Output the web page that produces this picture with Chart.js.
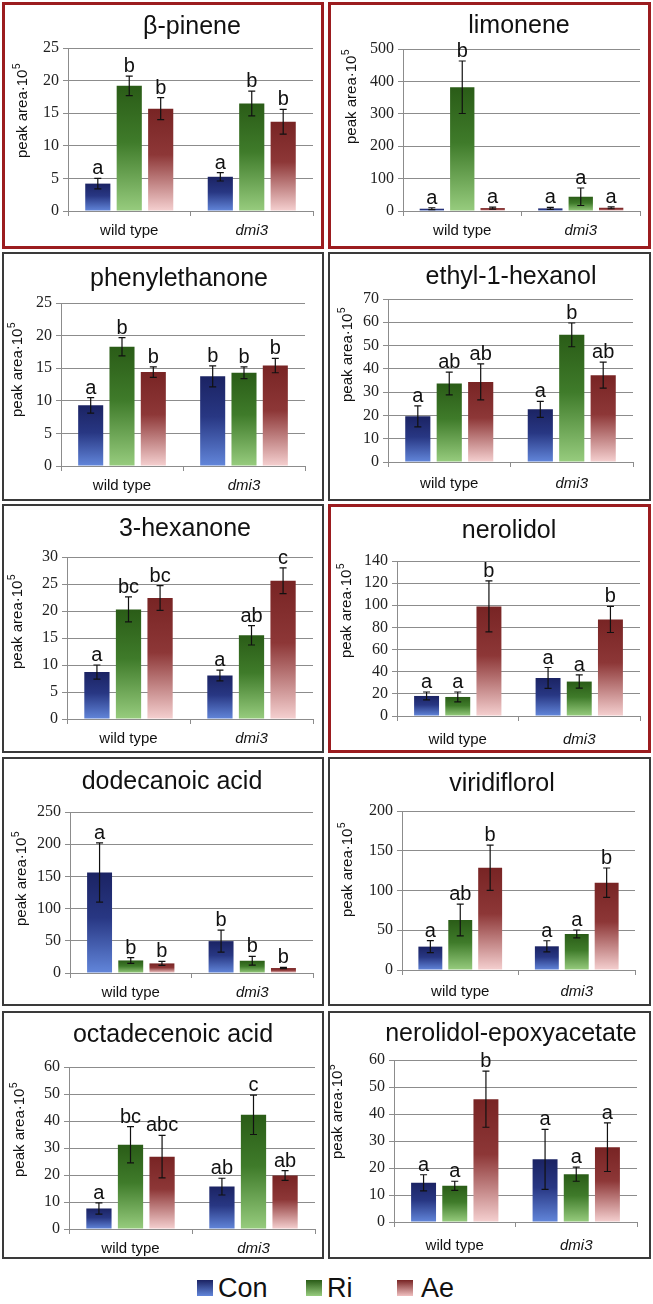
<!DOCTYPE html>
<html>
<head>
<meta charset="utf-8">
<script src="https://cdn.jsdelivr.net/npm/chart.js@4.4.0/dist/chart.umd.min.js"></script>
<style>
  body { margin: 0; background: #fff; width: 653px; height: 1304px; position: relative; overflow: hidden; }
  .panel, .frame, .ttl { position: absolute; }
  .frame { box-sizing: border-box; border: 2px solid #3a3a3a; pointer-events: none; }
  .frame.hi { border: 3px solid #9b1c1f; }
  .ttl { width: 320px; text-align: center; font: 25px "Liberation Sans", Arial, sans-serif; color: #111; line-height: 30px; }
  .leg { position: absolute; font: 27px "Liberation Sans", Arial, sans-serif; color: #111; line-height: 30px; }
  .sw { position: absolute; width: 16px; height: 16px; }
</style>
</head>
<body>
<script>
// categories / series
const groups = ['wild type', 'dmi3'];
const treatments = ['Con', 'Ri', 'Ae'];
const compounds = ['β-pinene', 'limonene', 'phenylethanone', 'ethyl-1-hexanol', '3-hexanone',
  'nerolidol', 'dodecanoic acid', 'viridiflorol', 'octadecenoic acid', 'nerolidol-epoxyacetate'];

// y axis ticks
const yMax  = [25, 500, 25, 70, 30, 140, 250, 200, 60, 60];
const yStep = [5, 100, 5, 10, 5, 20, 50, 50, 10, 10];

// means per compound: [wild type, dmi3]
const conMean = [[4.2, 5.25], [7, 8], [9.3, 13.75], [19.6, 22.6], [8.7, 8.05], [18.1, 34.4], [156.2, 49.5], [29.4, 29.8], [7.6, 15.7], [14.5, 23.2]];
const riMean  = [[19.2, 16.5], [382, 44], [18.3, 14.3], [33.7, 54.6], [20.3, 15.5], [17.2, 31.1], [19.5, 19], [62.9, 45.3], [31.2, 42.3], [13.4, 17.7]];
const aeMean  = [[15.7, 13.7], [9, 10], [14.4, 15.4], [34.4, 37.3], [22.4, 25.6], [99, 87.2], [14.9, 7.7], [128.7, 109.8], [26.8, 19.8], [45.5, 27.7]];

// error bars
const conErr = [[0.8, 0.65], [3, 3], [1.2, 1.6], [4.5, 3.4], [1.3, 1.0], [3.6, 9.4], [46, 17], [7.5, 7], [2.1, 3.1], [3, 11.1]];
const riErr  = [[1.5, 1.9], [81, 27], [1.4, 0.9], [4.9, 5.1], [2.3, 1.8], [4.5, 6], [4.5, 6.7], [20, 5], [6.7, 7.3], [1.7, 2.6]];
const aeErr  = [[1.7, 1.9], [3, 3], [0.8, 1.1], [7.7, 5.6], [2.3, 2.4], [23, 11.8], [3, 1], [28.5, 18.5], [7.9, 1.8], [10.4, 9]];

// significance letters
const conLet = [['a','a'], ['a','a'], ['a','b'], ['a','a'], ['a','a'], ['a','a'], ['a','b'], ['a','a'], ['a','ab'], ['a','a']];
const riLet  = [['b','b'], ['b','a'], ['b','b'], ['ab','b'], ['bc','ab'], ['a','a'], ['b','b'], ['ab','a'], ['bc','c'], ['a','a']];
const aeLet  = [['b','b'], ['a','a'], ['b','b'], ['ab','ab'], ['bc','c'], ['b','b'], ['b','b'], ['b','b'], ['abc','ab'], ['b','a']];

// layout (page pixels)
const panelBoxes = [[2,2,324,249], [328,2,651,249], [2,252,324,501], [328,252,651,501], [2,504,324,753],
  [328,504,651,753], [2,757,324,1006], [328,757,651,1006], [2,1011,324,1259], [328,1011,651,1259]];
const plotRects = [[68,48,313,211], [403,49,640,211], [61,303,305,466], [388,299,633,462], [67,557,313,719],
  [397,561,640,716], [70,812,313,973], [402,811,635,970], [69,1067,315,1229], [394,1060,637,1222]];
const titlePos = [[192,25], [519,24], [179,277], [511,275], [185,527], [509,529], [172,780], [502,782], [173,1033], [511,1032]];
const yLabelPos = [[23,111], [352,97], [18,370], [348,355], [18,622], [347,611], [22,879], [348,870], [20,1130], [338,1112]];
const catPad = [6, 6, 6, 8, 6, 10, 6, 8, 6, 10];
const highlighted = [true, true, false, false, false, true, false, false, false, false];

const colorStops = {
  Con: ['#1b2363', '#283783', '#6286da'],
  Ri:  ['#2a5c17', '#3f7b2a', '#97cc7e'],
  Ae:  ['#782424', '#8d3737', '#f5d0d0']
};

function barGradient(name) {
  return function(ctx) {
    const stops = colorStops[name];
    const chart = ctx.chart;
    if (!chart.chartArea || ctx.type !== 'data') return stops[0];
    const y = chart.scales.y;
    const top = y.getPixelForValue(ctx.parsed.y);
    const base = y.getPixelForValue(0);
    const g = chart.ctx.createLinearGradient(0, top, 0, base);
    g.addColorStop(0, stops[0]);
    g.addColorStop(0.45, stops[1]);
    g.addColorStop(1, stops[2]);
    return g;
  };
}

// error bars + letters
const errLetters = {
  id: 'errLetters',
  afterDatasetsDraw(chart) {
    const ctx = chart.ctx;
    const y = chart.scales.y;
    ctx.save();
    ctx.strokeStyle = '#111';
    ctx.lineWidth = 1.2;
    ctx.fillStyle = '#111';
    ctx.font = '20px "Liberation Sans", Arial, sans-serif';
    ctx.textAlign = 'center';
    ctx.textBaseline = 'alphabetic';
    chart.data.datasets.forEach((ds, i) => {
      chart.getDatasetMeta(i).data.forEach((bar, j) => {
        const v = ds.data[j], e = ds.errors[j];
        const top = y.getPixelForValue(v + e);
        const bot = y.getPixelForValue(Math.max(0, v - e));
        ctx.beginPath();
        ctx.moveTo(bar.x, top); ctx.lineTo(bar.x, bot);
        ctx.moveTo(bar.x - 3.5, top); ctx.lineTo(bar.x + 3.5, top);
        ctx.moveTo(bar.x - 3.5, bot); ctx.lineTo(bar.x + 3.5, bot);
        ctx.stroke();
        ctx.fillText(ds.letters[j], bar.x, top - 4);
      });
    });
    ctx.restore();
  }
};

// y axis title with superscript
const yLabel = {
  id: 'yLabel',
  afterDraw(chart, args, opts) {
    const ctx = chart.ctx;
    ctx.save();
    ctx.translate(opts.x, opts.y);
    ctx.rotate(-Math.PI / 2);
    ctx.fillStyle = '#111';
    ctx.textBaseline = 'middle';
    ctx.textAlign = 'left';
    const main = 'peak area·10', sup = '5';
    ctx.font = '15px "Liberation Sans", Arial, sans-serif';
    const w1 = ctx.measureText(main).width;
    ctx.font = '10px "Liberation Sans", Arial, sans-serif';
    const w2 = ctx.measureText(sup).width;
    const x0 = -(w1 + w2) / 2;
    ctx.font = '15px "Liberation Sans", Arial, sans-serif';
    ctx.fillText(main, x0, 0);
    ctx.font = '10px "Liberation Sans", Arial, sans-serif';
    ctx.fillText(sup, x0 + w1 + 0.5, -6);
    ctx.restore();
  }
};

compounds.forEach((name, k) => {
  const [bl, bt, br, bb] = panelBoxes[k];
  const [pl, pt, pr, pb] = plotRects[k];
  const w = br - bl, h = bb - bt;

  const wrap = document.createElement('div');
  wrap.className = 'panel';
  wrap.style.cssText = `left:${bl}px;top:${bt}px;width:${w}px;height:${h}px;`;
  const canvas = document.createElement('canvas');
  canvas.width = w; canvas.height = h;
  wrap.appendChild(canvas);
  document.body.appendChild(wrap);

  const frame = document.createElement('div');
  frame.className = 'frame' + (highlighted[k] ? ' hi' : '');
  frame.style.cssText = `left:${bl}px;top:${bt}px;width:${w}px;height:${h}px;`;
  document.body.appendChild(frame);

  const ttl = document.createElement('div');
  ttl.className = 'ttl';
  ttl.textContent = name;
  ttl.style.left = (titlePos[k][0] - 160) + 'px';
  ttl.style.top = (titlePos[k][1] - 15) + 'px';
  document.body.appendChild(ttl);

  const means = [conMean[k], riMean[k], aeMean[k]];
  const errs = [conErr[k], riErr[k], aeErr[k]];
  const lets = [conLet[k], riLet[k], aeLet[k]];

  new Chart(canvas.getContext('2d'), {
    type: 'bar',
    data: {
      labels: groups,
      datasets: treatments.map((t, i) => ({
        label: t,
        data: means[i],
        errors: errs[i],
        letters: lets[i],
        backgroundColor: barGradient(t),
        borderWidth: 0,
        categoryPercentage: 0.77,
        barPercentage: 0.8
      }))
    },
    options: {
      responsive: false,
      animation: false,
      events: [],
      layout: { padding: { top: pt - bt, right: br - pr, left: 0, bottom: 0 } },
      plugins: {
        legend: { display: false },
        tooltip: { enabled: false },
        yLabel: { x: yLabelPos[k][0] - bl, y: yLabelPos[k][1] - bt }
      },
      scales: {
        x: {
          grid: { display: true, drawOnChartArea: false, drawTicks: true, tickLength: 5, color: '#8c8c8c', offset: true },
          border: { color: '#8c8c8c' },
          ticks: {
            color: '#111',
            padding: catPad[k],
            font: (c) => ({ family: '"Liberation Sans", Arial, sans-serif', size: 15, style: c.index === 1 ? 'italic' : 'normal' })
          },
          afterFit: (s) => { s.height = bb - pb; }
        },
        y: {
          min: 0,
          max: yMax[k],
          ticks: { stepSize: yStep[k], autoSkip: false, color: '#222', padding: 4, font: { family: '"Liberation Serif", "Times New Roman", serif', size: 16 } },
          grid: { color: '#8c8c8c', tickLength: 5 },
          border: { color: '#8c8c8c' },
          afterFit: (s) => { s.width = pl - bl; }
        }
      }
    },
    plugins: [errLetters, yLabel]
  });
});

// shared legend
const legendItems = [
  { name: 'Con', sw: 197, tx: 218, grad: 'linear-gradient(#1b2363, #6286da)' },
  { name: 'Ri', sw: 306, tx: 327, grad: 'linear-gradient(#2a5c17, #97cc7e)' },
  { name: 'Ae', sw: 397, tx: 421, grad: 'linear-gradient(#782424, #f0c0c0)' }
];
legendItems.forEach((it) => {
  const s = document.createElement('div');
  s.className = 'sw';
  s.style.left = it.sw + 'px'; s.style.top = '1280px'; s.style.background = it.grad;
  document.body.appendChild(s);
  const t = document.createElement('div');
  t.className = 'leg';
  t.textContent = it.name;
  t.style.left = it.tx + 'px'; t.style.top = '1273px';
  document.body.appendChild(t);
});
</script>
</body>
</html>
